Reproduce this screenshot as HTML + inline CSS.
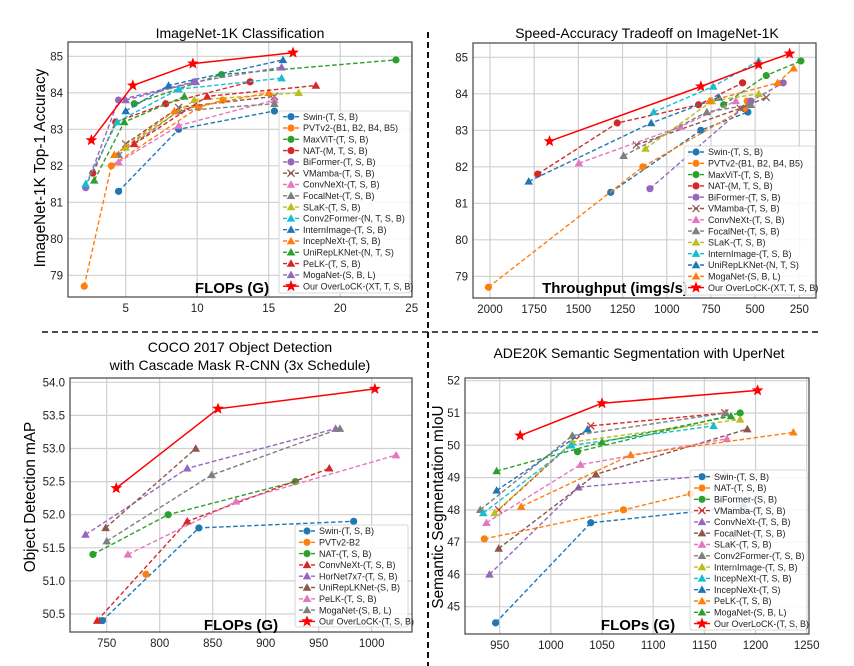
<!DOCTYPE html>
<html><head><meta charset="utf-8"><style>
html,body{margin:0;padding:0;background:#fff;}
svg{display:block;font-family:"Liberation Sans","DejaVu Sans",sans-serif;}
</style></head><body>
<svg id="fig" width="854" height="666" viewBox="0 0 854 666" xmlns="http://www.w3.org/2000/svg"></svg>
<script>
// ---------- DATA ----------
const p1Names=["Swin-(T, S, B)","PVTv2-(B1, B2, B4, B5)","MaxViT-(T, S, B)","NAT-(M, T, S, B)","BiFormer-(T, S, B)","VMamba-(T, S, B)","ConvNeXt-(T, S, B)","FocalNet-(T, S, B)","SLaK-(T, S, B)","Conv2Former-(N, T, S, B)","InternImage-(T, S, B)","IncepNeXt-(T, S, B)","UniRepLKNet-(N, T, S)","PeLK-(T, S, B)","MogaNet-(S, B, L)","Our OverLoCK-(XT, T, S, B)"];
const p1X=[[4.5,8.7,15.4],[2.1,4.0,10.1,11.8],[5.6,11.7,23.9],[2.7,4.3,7.8,13.7],[2.2,4.5,9.8],[5.0,8.7,15.4],[4.5,8.7,15.4],[4.5,8.7,15.4],[5.0,9.8,17.1],[2.2,4.4,8.7,15.9],[5.0,8.0,16.0],[4.2,8.4,15.0],[2.8,4.9,9.1],[5.6,10.7,18.3],[5.0,9.9,15.9],[2.6,5.5,9.7,16.7]];
const p1Y=[[81.3,83.0,83.5],[78.7,82.0,83.6,83.8],[83.7,84.5,84.9],[81.8,83.2,83.7,84.3],[81.4,83.8,84.3],[82.6,83.6,83.9],[82.1,83.1,83.8],[82.3,83.5,83.7],[82.5,83.8,84.0],[81.5,83.2,84.1,84.4],[83.5,84.2,84.9],[82.3,83.5,84.0],[81.6,83.2,83.9],[82.6,83.9,84.2],[83.8,84.3,84.7],[82.7,84.2,84.8,85.1]];
const p1Ticks=[5,10,15,20,25];
const p1YTicks=[79,80,81,82,83,84,85];

const p2Names=["Swin-(T, S, B)","PVTv2-(B1, B2, B4, B5)","MaxViT-(T, S, B)","NAT-(M, T, S, B)","BiFormer-(T, S, B)","VMamba-(T, S, B)","ConvNeXt-(T, S, B)","FocalNet-(T, S, B)","SLaK-(T, S, B)","InternImage-(T, S, B)","UniRepLKNet-(N, T, S)","MogaNet-(S, B, L)","Our OverLoCK-(XT, T, S, B)"];
const p2X=[[1317,807,541],[2009,1135,560,545],[678,437,241],[1730,1280,820,571],[1095,524,341],[1172,584,437],[1497,923,609],[1244,773,524],[1120,744,480],[1074,737,480],[1781,1088,705],[758,373,282],[1663,807,480,305]];
const p2Y=[[81.3,83.0,83.5],[78.7,82.0,83.6,83.8],[83.7,84.5,84.9],[81.8,83.2,83.7,84.3],[81.4,83.8,84.3],[82.6,83.6,83.9],[82.1,83.1,83.8],[82.3,83.5,83.7],[82.5,83.8,84.0],[83.5,84.2,84.9],[81.6,83.2,83.9],[83.8,84.3,84.7],[82.7,84.2,84.8,85.1]];
const p2Ticks=[2000,1750,1500,1250,1000,750,500,250];
const p2YTicks=[79,80,81,82,83,84,85];

const p3Names=["Swin-(T, S, B)","PVTv2-B2","NAT-(T, S, B)","ConvNeXt-(T, S, B)","HorNet7x7-(T, S, B)","UniRepLKNet-(S, B)","PeLK-(T, S, B)","MogaNet-(S, B, L)","Our OverLoCK-(T, S, B)"];
const p3X=[[746,837,983],[787],[737,808,928],[741,826,960],[730,826,966],[749,834],[770,872,1023],[750,849,970],[759,855,1003]];
const p3Y=[[50.4,51.8,51.9],[51.1],[51.4,52.0,52.5],[50.4,51.9,52.7],[51.7,52.7,53.3],[51.8,53.0],[51.4,52.2,52.9],[51.6,52.6,53.3],[52.4,53.6,53.9]];
const p3Ticks=[750,800,850,900,950,1000];
const p3YTicks=[50.5,51.0,51.5,52.0,52.5,53.0,53.5,54.0];

const p4Names=["Swin-(T, S, B)","NAT-(T, S, B)","BiFormer-(S, B)","VMamba-(T, S, B)","ConvNeXt-(T, S, B)","FocalNet-(T, S, B)","SLaK-(T, S, B)","Conv2Former-(T, S, B)","InternImage-(T, S, B)","IncepNeXt-(T, S, B)","IncepNeXt-(T, S)","PeLK-(T, S, B)","MogaNet-(S, B, L)","Our OverLoCK-(T, S, B)"];
const p4X=[[946,1039,1188],[935,1071,1137],[1026,1185],[949,1039,1170],[940,1027,1170],[949,1044,1192],[937,1029,1172],[931,1021,1171],[945,1021,1185],[934,1020,1159],[947,1036],[971,1078,1237],[947,1050,1176],[970,1050,1202]];
const p4Y=[[44.5,47.6,48.1],[47.1,48.0,48.5],[49.8,51.0],[48.0,50.6,51.0],[46.0,48.7,49.1],[46.8,49.1,50.5],[47.6,49.4,50.2],[48.0,50.3,51.0],[47.9,50.1,50.8],[47.9,50.0,50.6],[48.6,50.5],[48.1,49.7,50.4],[49.2,50.1,50.9],[50.3,51.3,51.7]];
const p4Ticks=[950,1000,1050,1100,1150,1200,1250];
const p4YTicks=[45,46,47,48,49,50,51,52];

// ---------- STYLE ----------
const C={b:"#1f77b4",o:"#ff7f0e",g:"#2ca02c",r:"#d62728",p:"#9467bd",br:"#8c564b",pk:"#e377c2",gy:"#7f7f7f",ol:"#bcbd22",c:"#17becf",star:"#ff0000"};
const p1Sty=[[C.b,"o"],[C.o,"o"],[C.g,"o"],[C.r,"o"],[C.p,"o"],[C.br,"x"],[C.pk,"^"],[C.gy,"^"],[C.ol,"^"],[C.c,"^"],[C.b,"^"],[C.o,"^"],[C.g,"^"],[C.r,"^"],[C.p,"^"],[C.star,"*"]];
const p2Sty=[[C.b,"o"],[C.o,"o"],[C.g,"o"],[C.r,"o"],[C.p,"o"],[C.br,"x"],[C.pk,"^"],[C.gy,"^"],[C.ol,"^"],[C.c,"^"],[C.b,"^"],[C.o,"^"],[C.star,"*"]];
const p3Sty=[[C.b,"o"],[C.o,"o"],[C.g,"o"],[C.r,"^"],[C.p,"^"],[C.br,"^"],[C.pk,"^"],[C.gy,"^"],[C.star,"*"]];
const p4Sty=[[C.b,"o"],[C.o,"o"],[C.g,"o"],[C.r,"x"],[C.p,"^"],[C.br,"^"],[C.pk,"^"],[C.gy,"^"],[C.ol,"^"],[C.c,"^"],[C.b,"^"],[C.o,"^"],[C.g,"^"],[C.star,"*"]];

const svg=document.getElementById('fig');
const NS="http://www.w3.org/2000/svg";
function mk(tag,attrs,parent){const e=document.createElementNS(NS,tag);for(const k in attrs)e.setAttribute(k,attrs[k]);(parent||svg).appendChild(e);return e;}
function txt(s,attrs,parent){const e=mk('text',attrs,parent);e.textContent=s;return e;}

function marker(g,type,cx,cy,col){
  let e;
  if(type==="o"){e=mk('circle',{cx:cx,cy:cy,r:3.6,fill:col},g);}
  else if(type==="^"){e=mk('polygon',{points:`${cx},${cy-4.3} ${cx-4.3},${cy+3.2} ${cx+4.3},${cy+3.2}`,fill:col},g);}
  else if(type==="x"){e=mk('path',{d:`M${cx-3.5},${cy-3.5}L${cx+3.5},${cy+3.5}M${cx-3.5},${cy+3.5}L${cx+3.5},${cy-3.5}`,stroke:col,'stroke-width':1.2,fill:'none'},g);}
  else{let pts=[];for(let i=0;i<10;i++){const a=-Math.PI/2+i*Math.PI/5;const rr=i%2?2.6:6.2;pts.push((cx+rr*Math.cos(a)).toFixed(2)+","+(cy+rr*Math.sin(a)).toFixed(2));}
    e=mk('polygon',{points:pts.join(' '),fill:col},g);}
  
  
  return e;
}

function panel(cfg,names,X,Y,sty,xt,yt){
  const g=mk('g',{});
  
  
  const sx=v=>cfg.px0+(v-cfg.vx0)*(cfg.px1-cfg.px0)/(cfg.vx1-cfg.vx0);
  const sy=v=>cfg.py0+(v-cfg.vy0)*(cfg.py1-cfg.py0)/(cfg.vy1-cfg.vy0);
  const [L,T,R,B]=cfg.box;
  const grid=mk('g',{stroke:"#d0d0d0",'stroke-width':1.2},g);
  
  
  xt.forEach(v=>{const x=sx(v);mk('line',{x1:x,x2:x,y1:T,y2:B},grid);
    const t=txt(cfg.fmtX?cfg.fmtX(v):String(v),{x:x,y:B+15,'text-anchor':'middle','font-size':11.5,fill:'#222'},g);
    });
  yt.forEach(v=>{const y=sy(v);mk('line',{x1:L,x2:R,y1:y,y2:y},grid);
    const t=txt(cfg.fmtY?cfg.fmtY(v):String(v),{x:L-5,y:y+4,'text-anchor':'end','font-size':11.5,fill:'#222'},g);
    });
  const fr=mk('rect',{x:L,y:T,width:R-L,height:B-T,fill:'none',stroke:'#444','stroke-width':1.2},g);
  
  names.forEach((n,i)=>{
    const [col,m]=sty[i];const sg=mk('g',{},g);
    
    
    const pts=X[i].map((x,j)=>sx(x).toFixed(1)+","+sy(Y[i][j]).toFixed(1)).join(' ');
    const solid=m==="*";
    mk('polyline',{points:pts,fill:'none',stroke:col,'stroke-width':solid?1.5:1.4,'stroke-dasharray':solid?'none':'4.5,2.5'},sg);
    X[i].forEach((x,j)=>marker(sg,m,sx(x),sy(Y[i][j]),col));
  });
  const xl=txt(cfg.xlabel,{x:cfg.xl[0],y:cfg.xl[1],'text-anchor':'middle','font-size':15,'font-weight':'bold',fill:'#000'},g);
  
  const [lx,ly,lw,lh,ly0]=cfg.leg;
  const lg=mk('g',{},g);
  mk('rect',{x:lx,y:ly,width:lw,height:lh,rx:2,fill:'rgba(255,255,255,0.85)',stroke:'#ccc','stroke-width':0.8},lg);
  names.forEach((n,i)=>{const [col,m]=sty[i];const y=ly0+i*11.3;
    const eg=mk('g',{},lg);
    mk('line',{x1:lx+4,x2:lx+20,y1:y,y2:y,stroke:col,'stroke-width':1.4,'stroke-dasharray':m==="*"?'none':'4,2'},eg);
    marker(eg,m,lx+12,y,col);
    txt(n,{x:lx+24,y:y+3.2,'font-size':9,fill:'#222'},eg);});
  return g;
}

panel({id:'imagenet-panel',box:[68,42,412,297],px0:125.7,vx0:5,px1:411.7,vx1:25,py0:56.3,vy0:85,py1:275.3,vy1:79,xlabel:'FLOPs (G)',xl:[232,293],leg:[279,111,131,182,116.7]},p1Names,p1X,p1Y,p1Sty,p1Ticks,p1YTicks);
panel({id:'speed-panel',box:[473,43,816,298],px0:490,vx0:2000,px1:799.3,vx1:250,py0:57.3,vy0:85,py1:276.3,vy1:79,xlabel:'Throughput (imgs/s)',xl:[615,293],leg:[684,146,131,149,152]},p2Names,p2X,p2Y,p2Sty,p2Ticks,p2YTicks);
panel({id:'coco-panel',box:[70,378,412,632],px0:106.7,vx0:750,px1:371.7,vx1:1000,py0:382.3,vy0:54,py1:614,vy1:50.5,xlabel:'FLOPs (G)',xl:[241,630],fmtY:v=>v.toFixed(1),leg:[295,525,113,102,531]},p3Names,p3X,p3Y,p3Sty,p3Ticks,p3YTicks);
panel({id:'ade20k-panel',box:[465,378,809,634],px0:499.7,vx0:950,px1:806.7,vx1:1250,py0:380.7,vy0:52,py1:606.7,vy1:45,xlabel:'FLOPs (G)',xl:[638,630],leg:[690,470,117,160,476.7]},p4Names,p4X,p4Y,p4Sty,p4Ticks,p4YTicks);

[["ImageNet-1K Classification",240,38,'title-imagenet'],["Speed-Accuracy Tradeoff on ImageNet-1K",647,38,'title-speed'],["COCO 2017 Object Detection",240,352,'title-coco-1'],["with Cascade Mask R-CNN (3x Schedule)",240,370,'title-coco-2'],["ADE20K Semantic Segmentation with UperNet",639,358,'title-ade20k']].forEach(t=>{
  const e=txt(t[0],{x:t[1],y:t[2],'text-anchor':'middle','font-size':14,fill:'#000'});
  });
[["ImageNet-1K Top-1 Accuracy",45,168,'y-axis-title-imagenet'],["Object Detection mAP",35,497,'y-axis-title-coco'],["Semantic Segmentation mIoU",443,507,'y-axis-title-ade20k']].forEach(t=>{
  const e=txt(t[0],{x:t[1],y:t[2],'text-anchor':'middle','font-size':15.3,fill:'#000',transform:`rotate(-90 ${t[1]} ${t[2]})`});
  });
const s1=mk('line',{x1:428,x2:428,y1:32,y2:666,stroke:'#111','stroke-width':2,'stroke-dasharray':'6,4'});

const s2=mk('line',{x1:42,x2:820,y1:332,y2:332,stroke:'#111','stroke-width':1.5,'stroke-dasharray':'6,4'});

</script>
</body></html>
